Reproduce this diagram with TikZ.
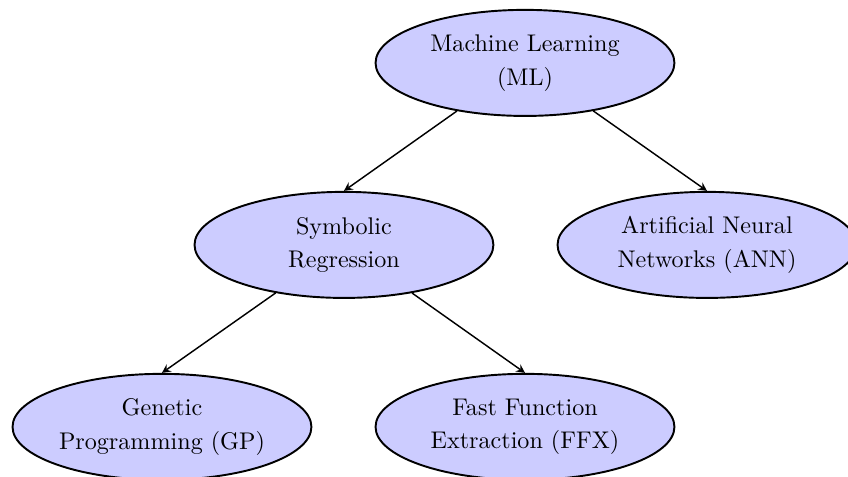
\documentclass[tikz,border=0pt]{standalone}
\usetikzlibrary{shapes.geometric}
\begin{document}
\begin{tikzpicture}[x=1pt, y=1pt,
        topic/.style={draw, thick, ellipse, fill=blue!20, inner sep=0pt, minimum width=124pt, minimum height=44pt,
            align=center, font=\fontsize{10}{14}\selectfont}]
        \useasboundingbox (-217.8, -171.4) rectangle (134, 26.1);

        \node[topic] (ml) at (0, 0) {Machine Learning\\(ML)};
        \node[topic] (sr) at (-75.1, -75.5) {Symbolic\\Regression};
        \node[topic] (ann) at (75.5, -75.5) {Artificial Neural\\Networks (ANN)};
        \node[topic] (gp) at (-150.6, -151) {Genetic\\Programming (GP)};
        \node[topic] (ffx) at (0, -151) {Fast Function\\Extraction (FFX)};

        \draw[->, >=stealth, semithick]
            (ml) -- (sr.north);
        \draw[->, >=stealth, semithick]
            (ml) -- (ann.north);
        \draw[->, >=stealth, semithick]
            (sr) -- (gp.north);
        \draw[->, >=stealth, semithick]
            (sr) -- (ffx.north);
    \end{tikzpicture}
\end{document}
